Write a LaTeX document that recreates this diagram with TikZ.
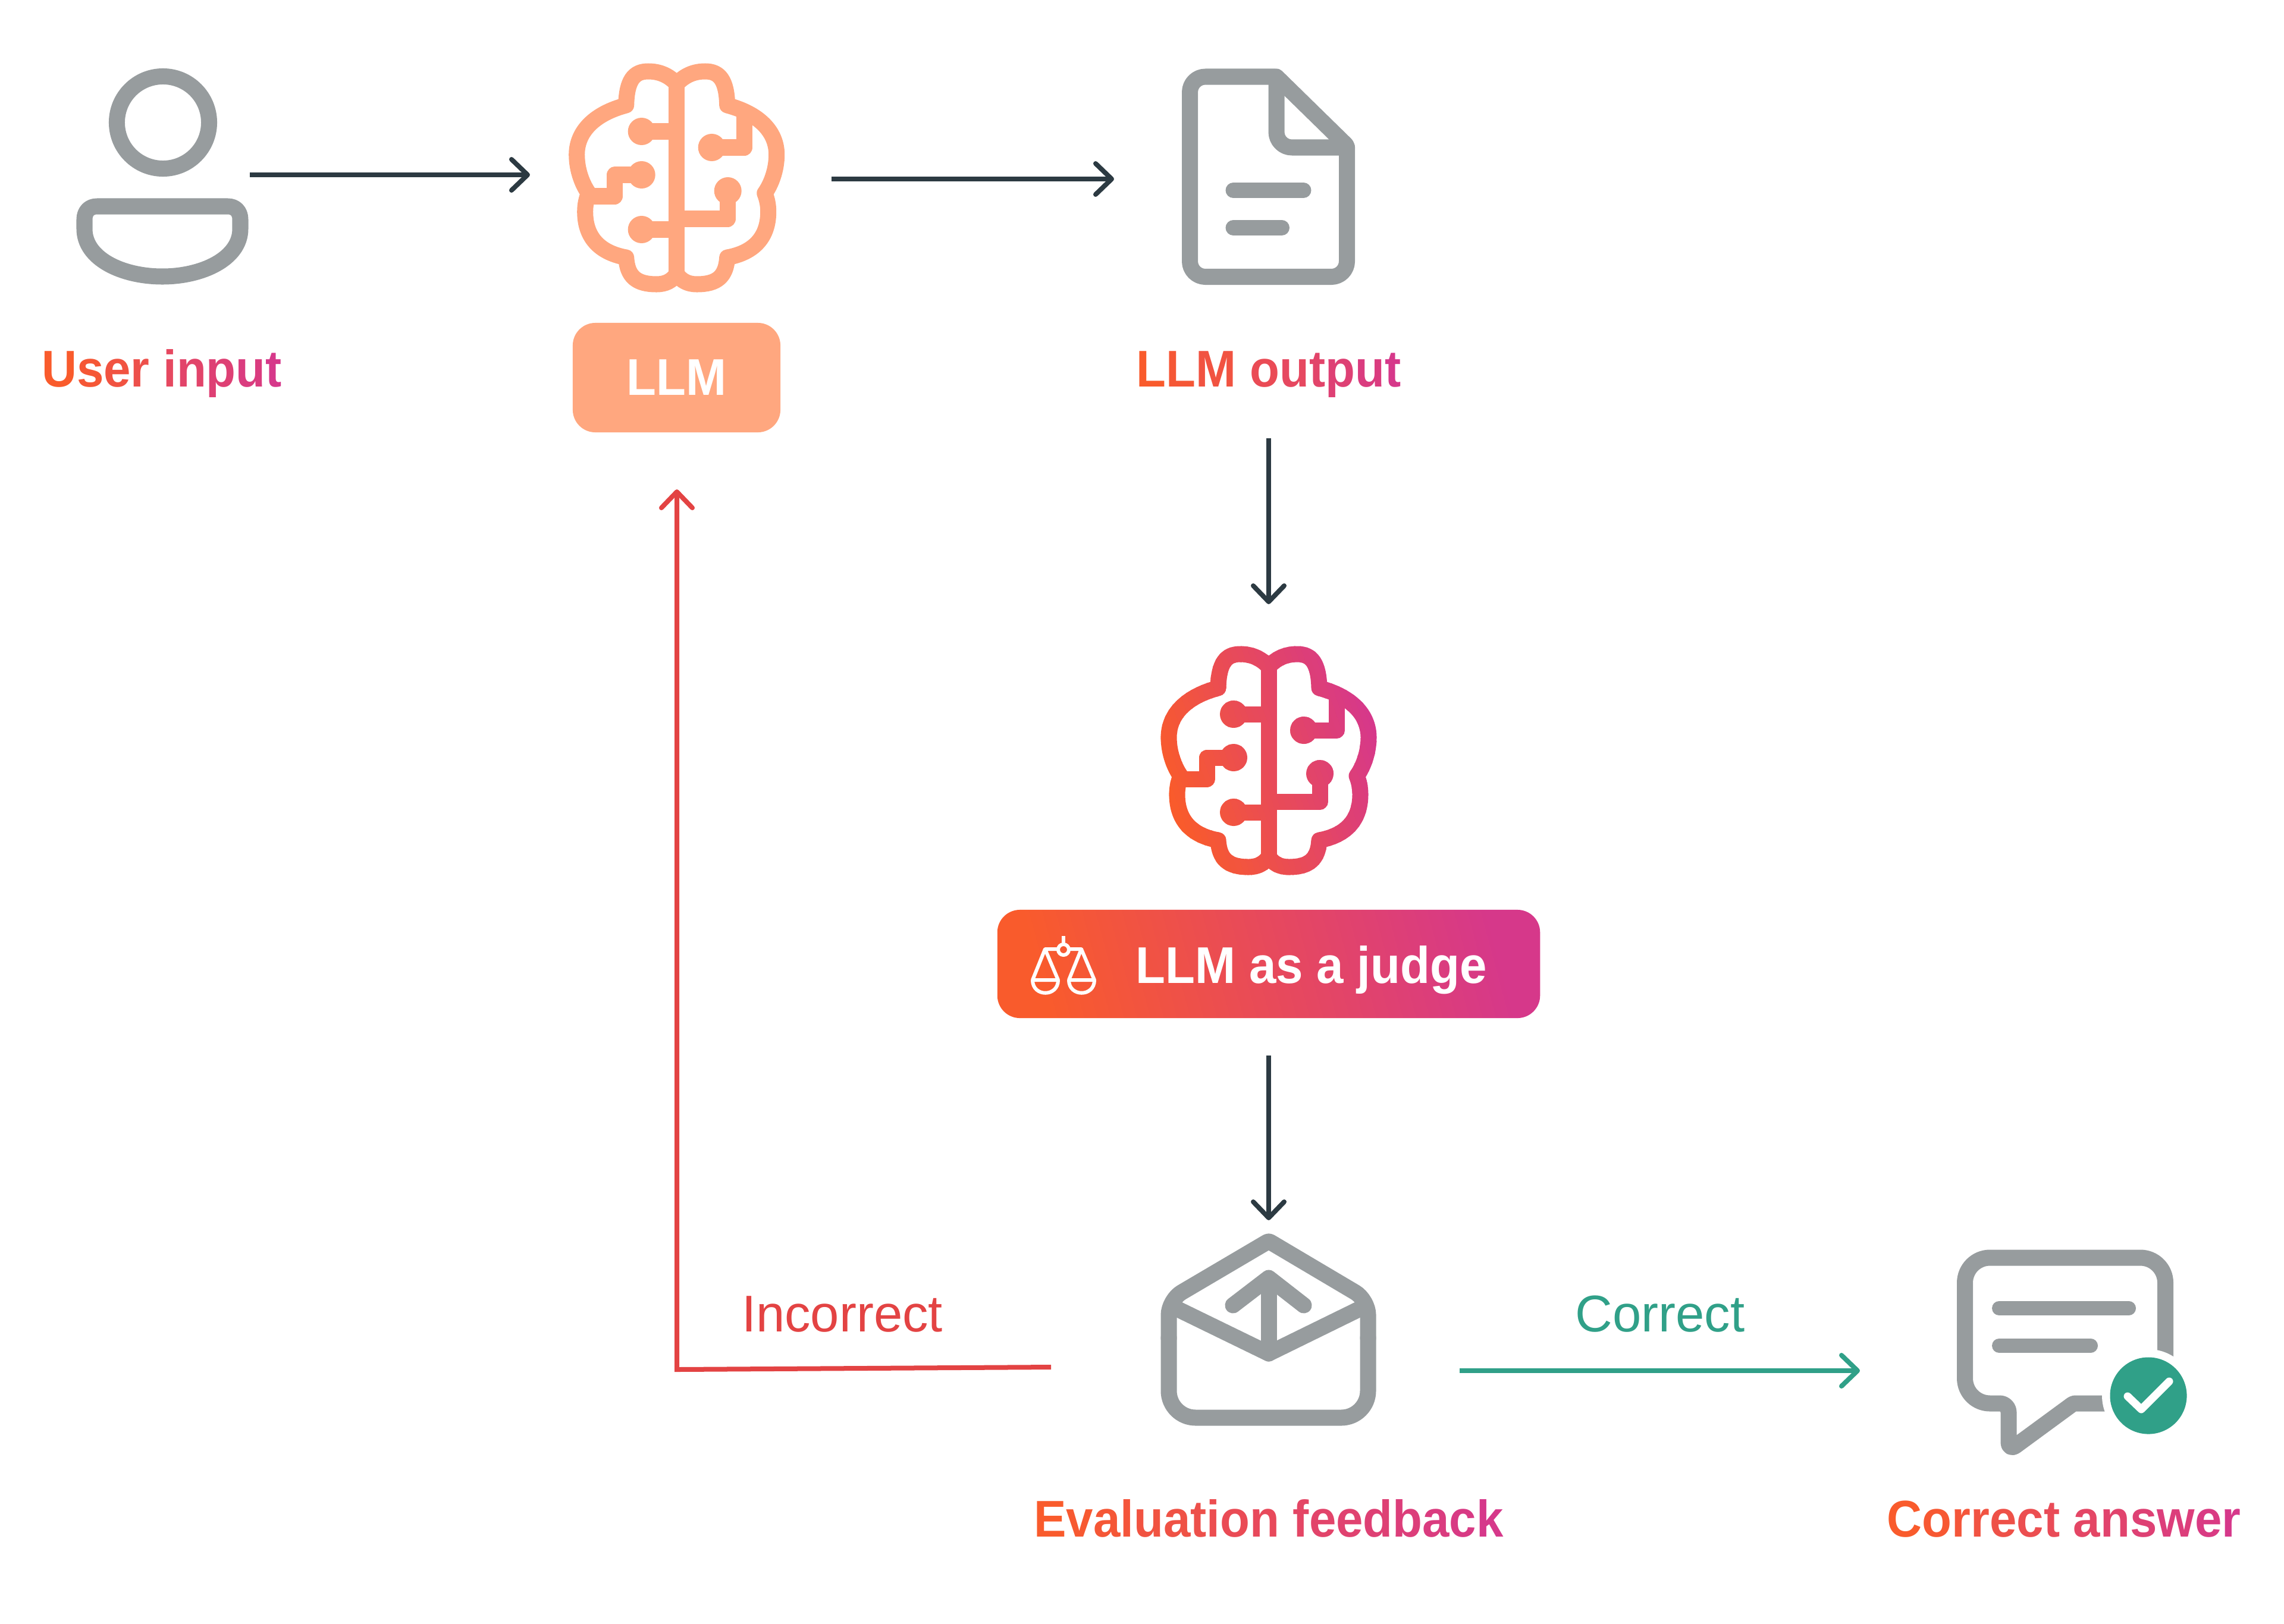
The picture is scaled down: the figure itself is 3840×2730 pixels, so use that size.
\documentclass[tikz,border=0pt]{standalone}
\usepackage{fontspec}
\usepackage{xstring}
\usetikzlibrary{arrows.meta}
\setmainfont{Liberation Sans}[BoldFeatures={FakeStretch=0.94}]
\definecolor{icongray}{HTML}{979C9E}
\definecolor{arrowdark}{HTML}{2C3A42}
\definecolor{llmpeach}{HTML}{FFA77F}
\definecolor{gradleft}{HTML}{F95B2C}
\definecolor{gradright}{HTML}{D6388A}
\definecolor{wrongred}{HTML}{E34343}
\definecolor{rightgreen}{HTML}{30A088}
\tikzset{
  iconline/.style={draw=icongray,line width=0.27cm,line join=round,line cap=round},
  iconbar/.style={draw=icongray,line width=0.26cm,line cap=round},
  boldlabel/.style={anchor=base,inner sep=0pt,font=\fontsize{24.7}{30}\selectfont\bfseries},
  plainlabel/.style={anchor=base,inner sep=0pt,font=\fontsize{24.7}{30}\selectfont},
  badge/.style={rounded corners=0.38cm,inner sep=0pt,text=white,font=\fontsize{24.7}{30}\selectfont\bfseries},
}
\def\gradspace{ }
\newcommand{\gradtext}[1]{%
  \StrLen{#1}[\gradlen]%
  \foreach \i in {1,...,\gradlen}{%
    \StrChar{#1}{\i}[\gradch]%
    \pgfmathtruncatemacro{\gradpct}{100*(\i-1)/(\gradlen-1)}%
    \ifx\gradch\gradspace\space\else\ifx\gradch\empty\space\else
      \textcolor{gradright!\gradpct!gradleft}{\gradch}\fi\fi}}
\newcommand{\brainlobe}{
  (0,81) .. controls (-14,66) and (-30,60) .. (-48,60)
  .. controls (-72,60) and (-84,75) .. (-85,117)
  .. controls (-138,131) and (-168,161) .. (-168,200)
  .. controls (-168,227) and (-158,251) .. (-148,265)
  .. controls (-152,275) and (-154,285) .. (-154,296)
  .. controls (-154,344) and (-124,366) .. (-85,373)
  .. controls (-83,405) and (-68,418) .. (-34,418)
  .. controls (-18,418) and (-8,412) .. (0,401)}
\newcommand{\brainicon}[1]{
  \begin{scope}[line width=0.27cm,line join=round,draw=#1,fill=#1]
    \draw \brainlobe;
    \begin{scope}[xscale=-1]
      \draw \brainlobe;
    \end{scope}
    \draw (0,75) -- (0,405);
    \draw (-59,161) -- (0,161);
    \draw (-59,326) -- (0,326);
    \draw (-59,234) -- (-104,234) -- (-104,270) -- (-148,270);
    \draw (59,188) -- (114,188) -- (114,128);
    \draw (86,261) -- (86,308) -- (0,308);
    \foreach \dotx/\doty in {-59/161,-59/234,-59/326,59/188,86/261}
      \path [fill=#1] (\dotx,\doty) circle (0.23cm);
  \end{scope}}

\begin{document}
\begin{tikzpicture}[x=0.01cm,y=-0.01cm,
    >={Straight Barb[length=0.27cm,width=0.52cm,round]}]
  \useasboundingbox (0,0) rectangle (3840,2730);

  % user
  \draw [iconline] (274,206) circle (0.775cm);
  \draw [iconline] (142,385) -- (142,369) .. controls (142,356) and (150,347) .. (163,347)
    -- (383,347) .. controls (396,347) and (404,356) .. (404,369) -- (404,385)
    .. controls (404,435) and (340,465) .. (273,465)
    .. controls (205,465) and (142,435) .. (142,385) -- cycle;

  % llm
  \begin{scope}[shift={(1137.7,60)}]
    \brainicon{llmpeach}
  \end{scope}
  \node (llmbox) [badge,fill=llmpeach,minimum width=3.49cm,minimum height=1.84cm] at (1137.5,635) {LLM};

  % llm output
  \draw [iconline,rounded corners=0.26cm] (2264.5,300) -- (2264.5,465.5) -- (2000.5,465.5) -- (2000.5,129)
    [rounded corners=0.03cm] -- (2146,129) -- (2264.5,245) [sharp corners] -- (2264.5,300);
  \draw [iconline,rounded corners=0.26cm] (2146,129) -- (2146,248) -- (2264.5,248);
  \draw [iconbar] (2073.5,320) -- (2191.5,320);
  \draw [iconbar] (2073.5,383) -- (2155,383);

  % judge
  \begin{scope}[shift={(2133,1040)}]
    \foreach \s [evaluate=\s as \sr using \s+12,
                 evaluate=\s as \pct using {max(0,min(100,(\s+190)/3.8))}] in {-210,-200,...,200} {
      \begin{scope}
        \clip ({\s-73},30) -- ({\sr-73},30) -- ({\sr+73},440) -- ({\s+73},440) -- cycle;
        \colorlet{stripcolor}{gradright!\pct!gradleft}
        \brainicon{stripcolor}
      \end{scope}
    }
  \end{scope}
  \node (judgebox) [badge,left color=gradleft,right color=gradright,shading angle=105,
    minimum width=9.12cm,minimum height=1.82cm] at (2133,1621) {};
  \node (judgetext) [badge,anchor=base] at (2204.5,1653) {LLM as a judge};
  \begin{scope}[draw=white,line width=0.06cm,line join=round]
    \draw (1788,1574) -- (1788,1588);
    \draw (1788,1597) circle (0.09cm);
    \draw (1779,1596) -- (1757,1596) -- (1736,1648) -- (1779,1648) -- (1757,1596);
    \draw (1797,1596) -- (1818,1596) -- (1797,1648) -- (1840,1648) -- (1818,1596);
    \draw (1736,1648) .. controls (1736,1677) and (1779,1677) .. (1779,1648);
    \draw (1797,1648) .. controls (1797,1677) and (1840,1677) .. (1840,1648);
  \end{scope}

  % feedback
  \draw [iconline,rounded corners=0.45cm] (1965,2250) -- (1965,2384) -- (2300,2384) -- (2300,2250);
  \draw [iconline,rounded corners=0.25cm] (1965,2250) -- (1965,2186)
    [rounded corners=0.03cm] -- (2133,2087)
    [rounded corners=0.25cm] -- (2300,2186) -- (2300,2250);
  \draw [iconline,line cap=butt] (1975,2199) -- (2133,2276) -- (2290,2199);
  \draw [iconline] (2133,2276) -- (2133,2160);
  \draw [iconline] (2073,2195) -- (2133,2149) -- (2192,2195);

  % answer
  \draw [iconline,rounded corners=0.03cm] (3600,2360) -- (3486,2360)
    [rounded corners=0.15cm] -- (3377,2440) -- (3377,2360)
    [rounded corners=0.42cm] -- (3303.5,2360) -- (3303.5,2115) -- (3640.5,2115) -- (3640.5,2340);
  \draw [iconbar,line width=0.24cm] (3361,2200) -- (3579,2200);
  \draw [iconbar,line width=0.24cm] (3361,2263) -- (3515,2263);
  \fill [white] (3612,2347) circle (0.78cm);
  \fill [rightgreen] (3612,2347) circle (0.645cm);
  \draw [white,line width=0.13cm,line cap=round,line join=round] (3577,2348) -- (3600,2370) -- (3647,2323);

  % labels
  \node (userlabel) [boldlabel] at (272,650) {\gradtext{User input}};
  \node (outputlabel) [boldlabel] at (2133,650) {\gradtext{LLM output}};
  \node (feedbacklabel) [boldlabel] at (2133,2584) {\gradtext{Evaluation feedback}};
  \node (answerlabel) [boldlabel] at (3470,2584) {\gradtext{Correct answer}};
  \node (wronglabel) [plainlabel,text=wrongred] at (1416,2239) {Incorrect};
  \node (rightlabel) [plainlabel,text=rightgreen] at (2791,2239) {Correct};

  % connectors
  \coordinate (userout) at (420,294);
  \coordinate (llmin) at (891,294);
  \coordinate (llmout) at (1398,301);
  \coordinate (docin) at (1873,301);
  \coordinate (docout) at (2133,737);
  \coordinate (judgein) at (2133,1016);
  \coordinate (judgeout) at (2133,1775);
  \coordinate (mailin) at (2133,2052);
  \coordinate (mailleft) at (1767,2299);
  \coordinate (turn) at (1138,2303);
  \coordinate (llmback) at (1138,823);
  \coordinate (mailright) at (2454,2305);
  \coordinate (answerin) at (3127,2305);
  \begin{scope}[line width=0.08cm]
    \draw [->,arrowdark] (userout) -- (llmin);
    \draw [->,arrowdark] (llmout) -- (docin);
    \draw [->,arrowdark] (docout) -- (judgein);
    \draw [->,arrowdark] (judgeout) -- (mailin);
    \draw [->,wrongred] (mailleft) -- (turn) -- (llmback);
    \draw [->,rightgreen] (mailright) -- (answerin);
  \end{scope}
\end{tikzpicture}
\end{document}
